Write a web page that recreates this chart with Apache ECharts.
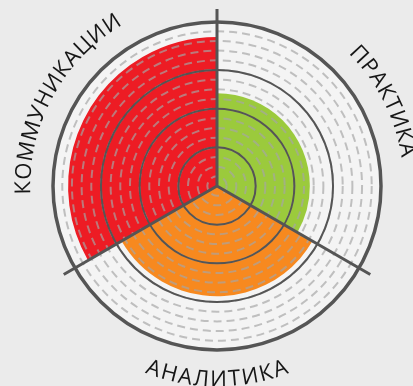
<!DOCTYPE html>
<html>
<head>
<meta charset="utf-8">
<script src="https://cdn.jsdelivr.net/npm/echarts@6/dist/echarts.min.js"></script>
<style>
  html, body { margin: 0; padding: 0; background: #ebebeb; }
  #chart { width: 413px; height: 386px; }
</style>
</head>
<body>
<div id="chart"></div>
<script>
// Skill sectors, clockwise from the top
const categories = ['ПРАКТИКА', 'АНАЛИТИКА', 'КОММУНИКАЦИИ'];
const values = [2.4, 2.85, 3.85];
const colors = ['#9bca3c', '#f7891f', '#ed1c24'];

// Radius scale: solid rings every unit, dashed rings every quarter unit
const scaleMax = 4.24;
const ringMax = 3;
const dashMax = 4;
const dashStep = 0.25;

const CENTER = [217, 186];
const UNIT = 38.68;               // pixels per radius unit
const FONT = '22px "Open Sans"';
const GRID = '#555555';
const LABEL_SHIFT = [-3, 0, 1.5]; // small angular nudges for the arc titles (deg)
const LETTER_GAP = 1.4;

// Lay each category name along an arc outside the chart
function arcLetters() {
  const ctx = document.createElement('canvas').getContext('2d');
  ctx.font = FONT;
  const pts = [], chars = [], bottom = [];
  categories.forEach((name, i) => {
    let mid = 90 - 120 * i - 60 + LABEL_SHIFT[i];
    mid = ((mid % 360) + 360) % 360;
    const isBottom = Math.sin(mid * Math.PI / 180) < 0;
    const rVal = isBottom ? 1.005 : 1.0;
    const rPx = 193 * rVal;
    const letters = Array.from(name);
    const widths = letters.map(c => ctx.measureText(c).width + LETTER_GAP);
    const total = widths.reduce((a, b) => a + b, 0);
    let acc = -total / 2;
    letters.forEach((c, k) => {
      const offPx = acc + widths[k] / 2;
      acc += widths[k];
      const dAng = offPx / rPx * 180 / Math.PI;
      const ang = isBottom ? mid + dAng : mid - dAng;
      pts.push([rVal, ang]);
      chars.push(c);
      bottom.push(isBottom);
    });
  });
  return { pts, chars, bottom };
}

const letters = arcLetters();
const chart = echarts.init(document.getElementById('chart'));

const hiddenAngle = (extra) => Object.assign({
  axisLine: { show: false }, axisTick: { show: false },
  axisLabel: { show: false }, splitLine: { show: false }
}, extra);
const hiddenRadius = (extra) => Object.assign({
  type: 'value', min: 0,
  axisLine: { show: false }, axisTick: { show: false },
  axisLabel: { show: false }, splitLine: { show: false }
}, extra);

chart.setOption({
  backgroundColor: '#ebebeb',
  animation: false,
  polar: [
    { center: CENTER, radius: UNIT * scaleMax },
    { center: CENTER, radius: UNIT * ringMax },
    { center: CENTER, radius: UNIT * dashMax },
    { center: CENTER, radius: 177 },
    { center: CENTER, radius: 193 }
  ],
  angleAxis: [
    hiddenAngle({
      polarIndex: 0, type: 'category', data: categories, startAngle: 90, clockwise: true,
      z: 6,
      axisLine: { show: true, lineStyle: { color: GRID, width: 3.5 } }
    }),
    hiddenAngle({ polarIndex: 1, type: 'value', min: 0, max: 360 }),
    hiddenAngle({ polarIndex: 2, type: 'value', min: 0, max: 360 }),
    hiddenAngle({
      polarIndex: 3, type: 'category', data: categories, startAngle: 90, clockwise: true,
      z: 6,
      splitLine: { show: true, lineStyle: { color: GRID, width: 3 } }
    }),
    hiddenAngle({ polarIndex: 4, type: 'value', min: 0, max: 360, startAngle: 0, clockwise: false })
  ],
  radiusAxis: [
    hiddenRadius({ polarIndex: 0, max: scaleMax }),
    hiddenRadius({
      polarIndex: 1, max: ringMax, interval: 1, z: 5,
      splitLine: { show: true, lineStyle: { color: GRID, width: 2 } }
    }),
    hiddenRadius({
      polarIndex: 2, max: dashMax, interval: dashStep, z: 4,
      splitLine: { show: true, lineStyle: { color: 'rgba(165,165,165,0.68)', width: 2, type: [8, 5] } }
    }),
    hiddenRadius({ polarIndex: 3, max: 1 }),
    hiddenRadius({ polarIndex: 4, max: 1 })
  ],
  series: [
    {
      type: 'pie', center: CENTER, radius: [0, UNIT * scaleMax], silent: true, z: 0,
      label: { show: false }, labelLine: { show: false },
      itemStyle: { color: '#f4f4f4' },
      data: [{ value: 1 }]
    },
    {
      type: 'bar', coordinateSystem: 'polar', polarIndex: 0,
      barCategoryGap: '0%', z: 2, silent: true,
      data: values.map((v, i) => ({ value: v, itemStyle: { color: colors[i] } }))
    },
    {
      type: 'custom', coordinateSystem: 'polar', polarIndex: 4, z: 8, silent: true,
      data: letters.pts,
      renderItem: (params, api) => {
        const r = api.value(0), a = api.value(1);
        const p = api.coord([r, a]);
        const i = params.dataIndex;
        const rot = (letters.bottom[i] ? a - 270 : a - 90) * Math.PI / 180;
        return {
          type: 'text', x: p[0], y: p[1], rotation: rot,
          style: {
            text: letters.chars[i], font: FONT, fill: '#161616',
            align: 'center', verticalAlign: 'middle'
          }
        };
      }
    }
  ]
});
</script>
</body>
</html>
